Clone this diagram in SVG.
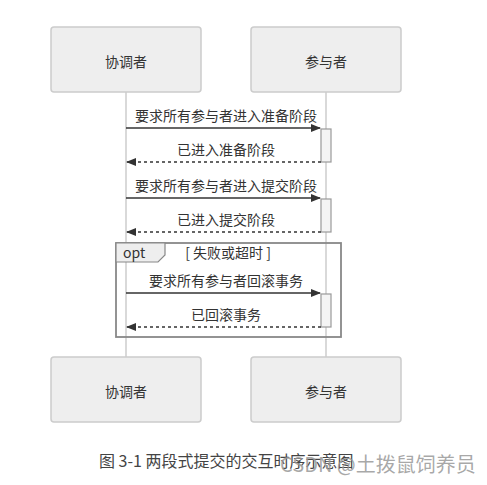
<svg xmlns="http://www.w3.org/2000/svg" width="487" height="485" viewBox="0 0 487 485">
<style>
.actor{fill:#eeeeee;stroke:#cccccc;stroke-width:1.5}
.lbl{font-family:"Noto Sans CJK SC","Microsoft YaHei",sans-serif;font-size:14px;fill:#333333}
.life{stroke:#cccccc;stroke-width:1.5;fill:none}
.act{fill:#f4f4f4;stroke:#999999;stroke-width:1.2}
.msg{stroke:#333333;stroke-width:1.5;fill:none}
.dash{stroke-dasharray:3 3}
.frame{fill:none;stroke:#888888;stroke-width:1.8}
</style>
<defs>
<marker id="ah" markerWidth="10" markerHeight="8" refX="9" refY="4" orient="auto" markerUnits="userSpaceOnUse">
<path d="M0,0 L10,4 L0,8 Z" fill="#333333"/>
</marker>
</defs>
<rect width="487" height="485" fill="#ffffff"/>
<g id="lifelines">
<line class="life" x1="126" y1="92" x2="126" y2="357"/>
<line class="life" x1="326" y1="92" x2="326" y2="357"/>
</g>
<g id="actor-coordinator-top">
<rect class="actor" x="51" y="27" width="150" height="65" rx="3"/>
<text class="lbl" x="126" y="67" text-anchor="middle">协调者</text>
</g>
<g id="actor-participant-top">
<rect class="actor" x="251" y="27" width="150" height="65" rx="3"/>
<text class="lbl" x="326" y="67" text-anchor="middle">参与者</text>
</g>
<g id="actor-coordinator-bottom">
<rect class="actor" x="51" y="357" width="150" height="65" rx="3"/>
<text class="lbl" x="126" y="397" text-anchor="middle">协调者</text>
</g>
<g id="actor-participant-bottom">
<rect class="actor" x="251" y="357" width="150" height="65" rx="3"/>
<text class="lbl" x="326" y="397" text-anchor="middle">参与者</text>
</g>
<g id="activations">
<rect class="act" x="321" y="129" width="10" height="33"/>
<rect class="act" x="321" y="199" width="10" height="33"/>
<rect class="act" x="321" y="294" width="10" height="33"/>
</g>
<g id="opt-frame">
<rect class="frame" x="116" y="243" width="225" height="94"/>
<path d="M116,243 L165,243 L165,255 L158,262 L116,262 Z" fill="#eeeeee" stroke="#888888" stroke-width="1.2"/>
<text class="lbl" x="123" y="258">opt</text>
<text class="lbl" x="228" y="258" text-anchor="middle">[ 失败或超时 ]</text>
</g>
<g id="connectors">
<line class="msg" x1="126" y1="128" x2="320" y2="128" marker-end="url(#ah)"/>
<text class="lbl" x="226" y="121" text-anchor="middle">要求所有参与者进入准备阶段</text>
<line class="msg dash" x1="321" y1="162" x2="127" y2="162" marker-end="url(#ah)"/>
<text class="lbl" x="226" y="155" text-anchor="middle">已进入准备阶段</text>
<line class="msg" x1="126" y1="198" x2="320" y2="198" marker-end="url(#ah)"/>
<text class="lbl" x="226" y="191" text-anchor="middle">要求所有参与者进入提交阶段</text>
<line class="msg dash" x1="321" y1="232" x2="127" y2="232" marker-end="url(#ah)"/>
<text class="lbl" x="226" y="225" text-anchor="middle">已进入提交阶段</text>
<line class="msg" x1="126" y1="293" x2="320" y2="293" marker-end="url(#ah)"/>
<text class="lbl" x="226" y="286" text-anchor="middle">要求所有参与者回滚事务</text>
<line class="msg dash" x1="321" y1="327" x2="127" y2="327" marker-end="url(#ah)"/>
<text class="lbl" x="226" y="320" text-anchor="middle">已回滚事务</text>
</g>
<text x="99" y="467" font-family="Noto Sans CJK SC, sans-serif" font-size="16" fill="#444444">图 3-1 两段式提交的交互时序示意图</text>
<text x="280" y="472" font-family="Noto Sans CJK SC, sans-serif" font-size="20" fill="#999999" fill-opacity="0.85">CSDN @土拨鼠饲养员</text>
</svg>
